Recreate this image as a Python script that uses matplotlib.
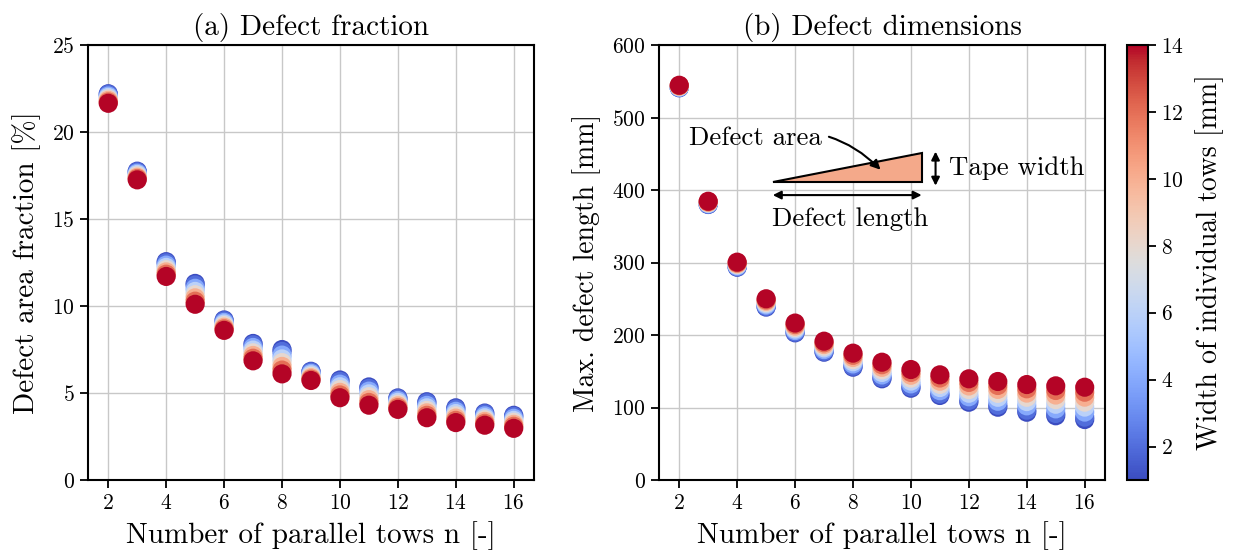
import numpy as np
import matplotlib
matplotlib.use("Agg")
import matplotlib.pyplot as plt
from matplotlib.patches import Polygon

plt.rcParams['font.family'] = 'serif'
plt.rcParams['font.serif'] = ['cmr10', 'DejaVu Serif']
plt.rcParams['mathtext.fontset'] = 'cm'
plt.rcParams['axes.formatter.use_mathtext'] = True

# ---------------- data ----------------
n_tows = [2, 3, 4, 5, 6, 7, 8, 9, 10, 11, 12, 13, 14, 15, 16]
tow_widths = [1, 2, 4, 6, 8, 10, 12, 14]   # mm

# defect area fraction [%]; one row per n, one column per tow width
fraction_2 = [22.20, 22.16, 22.07, 21.99, 21.90, 21.82, 21.73, 21.65]
fraction_3 = [17.75, 17.71, 17.63, 17.56, 17.48, 17.40, 17.33, 17.25]
fraction_4 = [12.55, 12.48, 12.35, 12.22, 12.09, 11.96, 11.83, 11.70]
fraction_5 = [11.30, 11.21, 11.02, 10.84, 10.65, 10.47, 10.28, 10.10]
fraction_6 = [9.20, 9.15, 9.06, 8.97, 8.88, 8.78, 8.69, 8.60]
fraction_7 = [7.85, 7.77, 7.62, 7.47, 7.31, 7.16, 7.00, 6.85]
fraction_8 = [7.50, 7.39, 7.18, 6.96, 6.75, 6.53, 6.32, 6.10]
fraction_9 = [6.25, 6.21, 6.13, 6.05, 5.96, 5.88, 5.80, 5.72]
fraction_10 = [5.75, 5.67, 5.51, 5.36, 5.20, 5.04, 4.89, 4.73]
fraction_11 = [5.35, 5.27, 5.11, 4.95, 4.79, 4.62, 4.46, 4.30]
fraction_12 = [4.72, 4.67, 4.57, 4.47, 4.36, 4.26, 4.16, 4.06]
fraction_13 = [4.50, 4.43, 4.29, 4.15, 4.00, 3.86, 3.72, 3.58]
fraction_14 = [4.15, 4.08, 3.95, 3.82, 3.69, 3.56, 3.43, 3.30]
fraction_15 = [3.85, 3.80, 3.69, 3.58, 3.47, 3.37, 3.26, 3.15]
fraction_16 = [3.72, 3.66, 3.55, 3.43, 3.32, 3.20, 3.09, 2.97]

# max. defect length [mm]
length_2 = [541.0, 541.3, 541.8, 542.3, 542.9, 543.4, 544.0, 544.5]
length_3 = [380.0, 380.3, 381.0, 381.7, 382.4, 383.1, 383.8, 384.5]
length_4 = [293.5, 294.0, 295.1, 296.2, 297.3, 298.3, 299.4, 300.5]
length_5 = [238.5, 239.4, 241.2, 242.9, 244.7, 246.5, 248.2, 250.0]
length_6 = [203.0, 204.0, 206.1, 208.2, 210.3, 212.3, 214.4, 216.5]
length_7 = [176.3, 177.5, 179.8, 182.2, 184.5, 186.8, 189.2, 191.5]
length_8 = [155.6, 157.1, 160.1, 163.1, 166.0, 169.0, 172.0, 175.0]
length_9 = [139.6, 141.4, 144.9, 148.4, 151.9, 155.4, 159.0, 162.5]
length_10 = [126.6, 128.6, 132.6, 136.5, 140.5, 144.5, 148.4, 152.4]
length_11 = [116.6, 118.8, 123.2, 127.6, 131.9, 136.3, 140.7, 145.1]
length_12 = [107.3, 109.8, 114.8, 119.7, 124.7, 129.7, 134.6, 139.6]
length_13 = [100.4, 103.1, 108.6, 114.1, 119.5, 125.0, 130.4, 135.9]
length_14 = [93.5, 96.4, 102.3, 108.2, 114.1, 119.9, 125.8, 131.7]
length_15 = [88.6, 91.8, 98.1, 104.5, 110.8, 117.2, 123.5, 129.9]
length_16 = [83.4, 86.8, 93.7, 100.6, 107.4, 114.3, 121.1, 128.0]

fractions = [fraction_2, fraction_3, fraction_4, fraction_5, fraction_6, fraction_7,
             fraction_8, fraction_9, fraction_10, fraction_11, fraction_12, fraction_13,
             fraction_14, fraction_15, fraction_16]
lengths = [length_2, length_3, length_4, length_5, length_6, length_7, length_8,
           length_9, length_10, length_11, length_12, length_13, length_14,
           length_15, length_16]

x_ticks = [2, 4, 6, 8, 10, 12, 14, 16]
cbar_ticks = [2, 4, 6, 8, 10, 12, 14]

# ---------------- figure ----------------
fig = plt.figure(figsize=(12.41, 5.57), dpi=100)
ax1 = fig.add_axes([0.0709, 0.1382, 0.3594, 0.781])
ax2 = fig.add_axes([0.5310, 0.1382, 0.3594, 0.781])
cax = fig.add_axes([0.9081, 0.1382, 0.0169, 0.781])

cmap = plt.get_cmap('coolwarm')
norm = matplotlib.colors.Normalize(vmin=1, vmax=14)

F = np.array(fractions)
L = np.array(lengths)
for j, w in enumerate(tow_widths):
    c = [cmap(norm(w))]
    ax1.scatter(n_tows, F[:, j], s=190, c=c, edgecolors='none', zorder=3)
    ax2.scatter(n_tows, L[:, j], s=190, c=c, edgecolors='none', zorder=3)

for ax in (ax1, ax2):
    ax.set_xticks(x_ticks)
    ax.grid(True, color='#c8c8c8', linewidth=1.0)
    ax.set_axisbelow(True)
    ax.tick_params(axis='both', labelsize=15.5, direction='out', length=6, width=1.3)
    for sp in ax.spines.values():
        sp.set_linewidth(1.5)
    ax.set_xlabel('Number of parallel tows n [-]', fontsize=21, labelpad=6)
    ax.set_xlim(1.3, 16.7)

ax1.set_ylim(0, 25)
ax1.set_yticks([0, 5, 10, 15, 20, 25])
ax1.set_ylabel('Defect area fraction [%]', fontsize=21, labelpad=8)
ax1.set_title('(a) Defect fraction', fontsize=21, pad=7)

ax2.set_ylim(0, 600)
ax2.set_yticks([0, 100, 200, 300, 400, 500, 600])
ax2.set_ylabel('Max. defect length [mm]', fontsize=20, labelpad=8)
ax2.set_title('(b) Defect dimensions', fontsize=21, pad=7)

# inset sketch
tri = Polygon([[5.23, 411], [10.37, 411], [10.37, 451]], closed=True,
              facecolor='#f4a98a', edgecolor='black', linewidth=1.5, zorder=4)
ax2.add_patch(tri)
ax2.annotate('', xy=(5.23, 393), xytext=(10.37, 393),
             arrowprops=dict(arrowstyle='<|-|>', color='black', lw=1.5,
                             shrinkA=0, shrinkB=0, mutation_scale=12), zorder=5)
ax2.annotate('', xy=(10.85, 453), xytext=(10.85, 406),
             arrowprops=dict(arrowstyle='<|-|>', color='black', lw=1.5,
                             shrinkA=0, shrinkB=0, mutation_scale=12), zorder=5)
ax2.text(5.2, 360, 'Defect length', fontsize=19.3, ha='left', va='center', zorder=5)
ax2.text(11.3, 430, 'Tape width', fontsize=19.3, ha='left', va='center', zorder=5)
ax2.annotate('Defect area', xy=(8.95, 428), xytext=(2.35, 472),
             fontsize=19.3, ha='left', va='center',
             arrowprops=dict(arrowstyle='-|>', color='black', lw=1.5,
                             connectionstyle='arc3,rad=-0.3', shrinkA=3, shrinkB=0,
                             mutation_scale=14), zorder=5)

sm = matplotlib.cm.ScalarMappable(norm=norm, cmap=cmap)
cb = fig.colorbar(sm, cax=cax, ticks=cbar_ticks)
cb.outline.set_linewidth(1.5)
cb.ax.tick_params(labelsize=15.5, length=6, width=1.3)
cb.set_label('Width of individual tows [mm]', fontsize=20, labelpad=8)

fig.savefig('out.png', dpi=100)
